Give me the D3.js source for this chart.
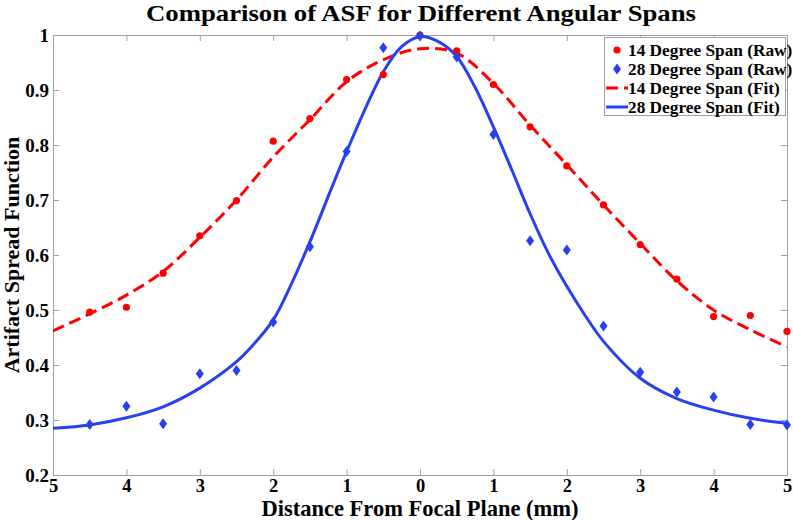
<!DOCTYPE html>
<html><head><meta charset="utf-8">
<script src="https://cdn.jsdelivr.net/npm/d3@7"></script>
<style>
body{margin:0;background:#fff;}
text{font-family:"Liberation Serif","Times New Roman",serif;font-weight:bold;fill:#000;}
</style></head>
<body><svg id="c" width="793" height="520"></svg>
<script>
const rawX = [-4.5,-4,-3.5,-3,-2.5,-2,-1.5,-1,-0.5,0,0.5,1,1.5,2,2.5,3,3.5,4,4.5,5];
const raw14 = [0.496,0.505,0.567,0.635,0.699,0.807,0.848,0.919,0.928,1.0,0.971,0.910,0.833,0.762,0.691,0.619,0.556,0.488,0.490,0.461];
const raw28 = [0.292,0.325,0.293,0.384,0.390,0.478,0.615,0.788,0.977,0.998,0.960,0.819,0.626,0.609,0.471,0.387,0.351,0.342,0.292,0.291];
const fitX14 = [-5,-4.5,-4,-3.5,-3,-2.5,-2,-1.5,-1,-0.5,0,0.5,1,1.5,2,2.5,3,3.5,4,4.5,5];
const fit14 = [0.462,0.493,0.527,0.570,0.632,0.700,0.778,0.846,0.915,0.955,0.975,0.967,0.912,0.836,0.764,0.691,0.621,0.553,0.500,0.464,0.433];
const fitX28 = [-5,-4.5,-4,-3.5,-3,-2.5,-2.25,-2,-1.75,-1.5,-1,-0.5,-0.25,0,0.25,0.5,0.75,1,1.25,1.5,1.75,2,2.25,2.5,3,3.5,4,4.5,5];
const fit28 = [0.285,0.291,0.304,0.324,0.358,0.406,0.440,0.482,0.548,0.624,0.788,0.933,0.979,0.997,0.988,0.961,0.905,0.833,0.755,0.675,0.603,0.543,0.490,0.443,0.376,0.339,0.318,0.303,0.294];
const xTicks = [-5,-4,-3,-2,-1,0,1,2,3,4,5];
const yTicks = [0.2,0.3,0.4,0.5,0.6,0.7,0.8,0.9,1];
const legendLabels = ["14 Degree Span (Raw)","28 Degree Span (Raw)","14 Degree Span (Fit)","28 Degree Span (Fit)"];
const titleText = "Comparison of ASF for Different Angular Spans";
const xTitle = "Distance From Focal Plane (mm)";
const yTitle = "Artifact Spread Function";

const RED = "#ff0000", BLUE = "#2541f0", AX = "#a0a0a0";
const L = 53, R = 787, T = 35, B = 475;
const svg = d3.select("#c");
const x = d3.scaleLinear().domain([-5,5]).range([L,R]);
const y = d3.scaleLinear().domain([0.2,1]).range([B,T]);

const tickFmtX = d => Math.abs(d);
const tickFmtY = d => d === 1 ? "1" : d3.format(".1f")(d);

const gx = svg.append("g").attr("transform",`translate(0,${B})`)
  .call(d3.axisBottom(x).tickValues(xTicks).tickFormat(tickFmtX).tickSize(-6).tickPadding(3));
const gxt = svg.append("g").attr("transform",`translate(0,${T})`)
  .call(d3.axisTop(x).tickValues(xTicks).tickFormat("").tickSize(-6));
const gy = svg.append("g").attr("transform",`translate(${L},0)`)
  .call(d3.axisLeft(y).tickValues(yTicks).tickFormat(tickFmtY).tickSize(-6).tickPadding(4));
const gyr = svg.append("g").attr("transform",`translate(${R},0)`)
  .call(d3.axisRight(y).tickValues(yTicks).tickFormat("").tickSize(-6));
[gx,gxt,gy,gyr].forEach(g=>{
  g.selectAll(".domain").attr("stroke",AX).attr("stroke-width",1);
  g.selectAll(".tick line").attr("stroke",AX);
});
gx.selectAll("text").attr("font-size",18.5).attr("font-family","Liberation Serif").attr("font-weight","bold").attr("fill","#000").attr("dy","0.75em");
gy.selectAll("text").attr("font-size",19).attr("font-family","Liberation Serif").attr("font-weight","bold").attr("fill","#000");

const line = d3.line().x(d=>x(d[0])).y(d=>y(d[1])).curve(d3.curveCatmullRom.alpha(0.5));
svg.append("clipPath").attr("id","clp").append("rect").attr("x",L).attr("y",T).attr("width",R-L).attr("height",B-T);
const plot = svg.append("g");

plot.append("path").datum(fitX14.map((v,i)=>[v,fit14[i]])).attr("d",line)
  .attr("fill","none").attr("stroke",RED).attr("stroke-width",3).attr("stroke-dasharray","12,6").attr("clip-path","url(#clp)");
plot.append("path").datum(fitX28.map((v,i)=>[v,fit28[i]])).attr("d",line)
  .attr("fill","none").attr("stroke",BLUE).attr("stroke-width",3).attr("clip-path","url(#clp)");

plot.selectAll("circle.r").data(rawX.map((v,i)=>[v,raw14[i]])).enter().append("circle")
  .attr("cx",d=>x(d[0])).attr("cy",d=>y(d[1])).attr("r",3.6).attr("fill",RED);
const diamond = "M0,-5.5L4,0L0,5.5L-4,0Z";
plot.selectAll("path.d").data(rawX.map((v,i)=>[v,raw28[i]])).enter().append("path")
  .attr("d",diamond).attr("transform",d=>`translate(${x(d[0])},${y(d[1])})`).attr("fill",BLUE);

const lg = svg.append("g");
lg.append("rect").attr("x",604.5).attr("y",37.5).attr("width",181).attr("height",78).attr("fill","#fff").attr("stroke",AX);
const rowY = [50,69,88,107];
legendLabels.forEach((t,i)=>{
  const yy = rowY[i];
  if(i===0) lg.append("circle").attr("cx",617).attr("cy",yy).attr("r",3.6).attr("fill",RED);
  if(i===1) lg.append("path").attr("d",diamond).attr("transform",`translate(617,${yy})`).attr("fill",BLUE);
  if(i===2) lg.append("line").attr("x1",606).attr("x2",628).attr("y1",yy).attr("y2",yy).attr("stroke",RED).attr("stroke-width",3).attr("stroke-dasharray","12,6");
  if(i===3) lg.append("line").attr("x1",606).attr("x2",628).attr("y1",yy).attr("y2",yy).attr("stroke",BLUE).attr("stroke-width",3);
  lg.append("text").attr("x",628).attr("y",yy).attr("dy","0.35em").attr("font-size",17.3).text(t);
});

svg.append("text").attr("x",(L+R)/2 + 1).attr("y",21).attr("text-anchor","middle").attr("font-size",23.5)
  .attr("textLength",550).attr("lengthAdjust","spacingAndGlyphs").text(titleText);
svg.append("text").attr("x",(L+R)/2).attr("y",516).attr("text-anchor","middle").attr("font-size",22.5).text(xTitle);
svg.append("text").attr("transform",`translate(19,${(T+B)/2}) rotate(-90)`).attr("text-anchor","middle").attr("font-size",22).text(yTitle);
</script></body></html>
